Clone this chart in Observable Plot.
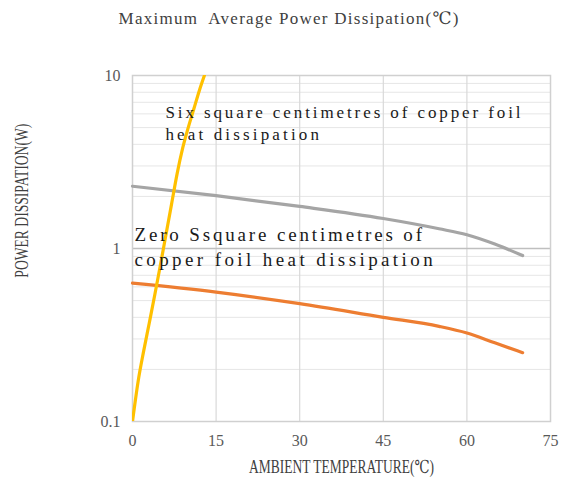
<!DOCTYPE html>
<html>
<head>
<meta charset="utf-8">
<script src="https://cdn.jsdelivr.net/npm/d3@7"></script>
<script src="https://cdn.jsdelivr.net/npm/@observablehq/plot@0.6"></script>
<style>
  html, body { margin: 0; padding: 0; background: #fff; }
  #chart svg { display: block; }
</style>
</head>
<body>
<div id="chart"></div>
<script>
// ---- data ----
const titleText = "Maximum\u00a0 Average Power Dissipation(\u2103)";
const xLabel = "AMBIENT TEMPERATURE(\u2103)";
const yLabel = "POWER DISSIPATION(W)";
const xTicks = [0, 15, 30, 45, 60, 75];
const yTicks = [0.1, 1, 10];
const yMinorGrid = [0.2, 0.3, 0.4, 0.5, 0.6, 0.7, 0.8, 0.9, 2, 3, 4, 5, 6, 7, 8, 9];
const xGrid = [15, 30, 45, 60];

// Six square centimetres of copper foil (gray)
const sixTemp  = [0, 15, 30, 45, 55, 60, 65, 70];
const sixPower = [2.29, 2.02, 1.75, 1.49, 1.30, 1.20, 1.06, 0.91];
// Zero square centimetres (orange)
const zeroTemp  = [0, 15, 30, 45, 55, 60, 65, 70];
const zeroPower = [0.63, 0.56, 0.48, 0.40, 0.355, 0.325, 0.285, 0.25];
// Steep yellow curve
const steepTemp  = [0, 1, 2, 3, 4, 5, 6, 7, 8, 9, 10, 11, 12, 12.9];
const steepPower = [0.1, 0.17, 0.255, 0.37, 0.54, 0.8, 1.2, 1.8, 2.7, 3.8, 5.0, 6.4, 8.2, 10];

const annotations = [
  {x: 5.9, y: 7.0, text: "Six square centimetres of copper foil\nheat dissipation", size: 17, advance: 9.6},
  {x: 0.35, y: 1.39, text: "Zero Ssquare centimetres of\ncopper foil heat dissipation", size: 19, advance: 10.65}
];

const toRows = (xs, ys) => xs.map((x, i) => ({x, y: ys[i]}));
const six = toRows(sixTemp, sixPower);
const zero = toRows(zeroTemp, zeroPower);
const steep = toRows(steepTemp, steepPower);

const serif = "'Liberation Serif', 'DejaVu Serif', serif";

const chart = Plot.plot({
  width: 566,
  height: 481,
  marginLeft: 132,
  marginRight: 16,
  marginTop: 75,
  marginBottom: 60,
  style: {fontFamily: serif, fontSize: "16px", color: "#595959", background: "#fff"},
  x: {domain: [0, 75], ticks: xTicks, tickSize: 0, tickPadding: 13, label: null},
  y: {type: "log", domain: [0.1, 10], ticks: yTicks, tickSize: 0, tickPadding: 12, label: null,
      tickFormat: d => d === 0.1 ? "0.1" : String(d)},
  marks: [
    Plot.gridY(yMinorGrid, {stroke: "#e6e6e6", strokeOpacity: 1, strokeWidth: 1}),
    Plot.ruleX(xGrid, {stroke: "#d9d9d9", strokeWidth: 1.2}),
    Plot.ruleY([1], {stroke: "#bfbfbf", strokeWidth: 1.5}),
    Plot.frame({stroke: "#d0d0d0", strokeWidth: 1.5}),
    Plot.line(six, {x: "x", y: "y", stroke: "#a5a5a5", strokeWidth: 3.2, curve: "monotone-x"}),
    Plot.line(zero, {x: "x", y: "y", stroke: "#ed7d31", strokeWidth: 3.2, curve: "monotone-x"}),
    Plot.line(steep, {x: "x", y: "y", stroke: "#ffc000", strokeWidth: 3.2, curve: "monotone-x", clip: true}),
    Plot.text(annotations.slice(0, 1), {x: "x", y: "y", text: "text", textAnchor: "start", lineAnchor: "top",
      lineHeight: 1.31, fontSize: 17, fontFamily: serif, fill: "#1a1a1a"}),
    Plot.text(annotations.slice(1), {x: "x", y: "y", text: "text", textAnchor: "start", lineAnchor: "top",
      lineHeight: 1.3, fontSize: 19, fontFamily: serif, fill: "#1a1a1a"}),
    Plot.text([titleText], {frameAnchor: "top", dx: -53, dy: -52, lineAnchor: "bottom", fontSize: 17,
      fill: "#404040"}),
    Plot.text([xLabel], {frameAnchor: "bottom", dy: 51, lineAnchor: "bottom", fontSize: 18,
      fill: "#404040"}),
    Plot.text([yLabel], {x: -19.7, y: 1.89, rotate: -90, textAnchor: "middle", lineAnchor: "middle", fontSize: 18,
      fill: "#404040"})
  ]
});

document.getElementById("chart").appendChild(chart);

// condense axis titles to match the narrow font of the reference
d3.select(chart).selectAll("text").each(function () {
  const t = this.textContent;
  if (t === xLabel) d3.select(this).attr("textLength", 185).attr("lengthAdjust", "spacingAndGlyphs");
  if (t === yLabel) d3.select(this).attr("textLength", 154).attr("lengthAdjust", "spacingAndGlyphs");
  if (t === titleText) d3.select(this).attr("textLength", 340).attr("lengthAdjust", "spacing");
});
// monospace-like spacing for annotation lines
d3.select(chart).selectAll("tspan").each(function () {
  const t = this.textContent;
  for (const a of annotations) {
    if (a.text.split("\n").includes(t)) {
      d3.select(this).attr("textLength", t.length * a.advance).attr("lengthAdjust", "spacing");
    }
  }
});
</script>
</body>
</html>
